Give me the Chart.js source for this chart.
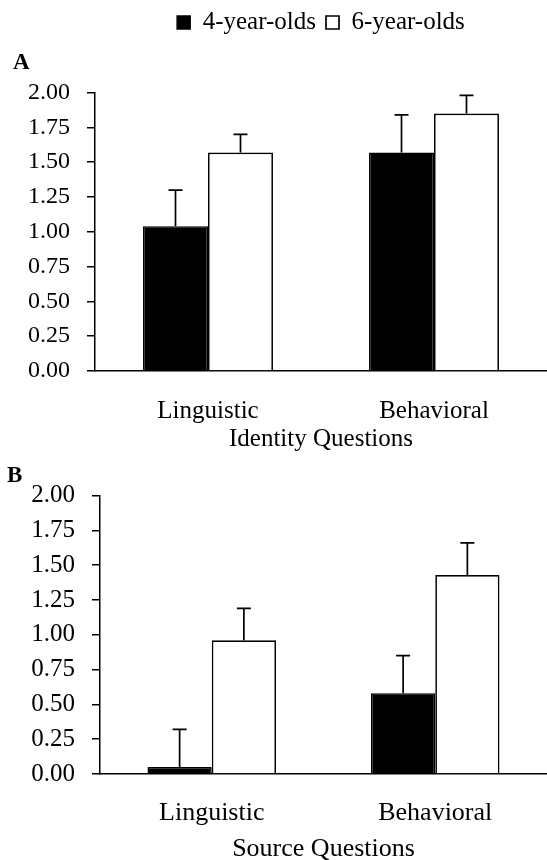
<!DOCTYPE html>
<html>
<head>
<meta charset="utf-8">
<script src="https://cdn.jsdelivr.net/npm/chart.js@4.4.0/dist/chart.umd.min.js"></script>
<style>
  html, body { margin: 0; padding: 0; background: #fff; overflow: hidden; }
  #wrap { width: 547px; height: 860px; position: relative; }
  canvas { display: block; }
</style>
</head>
<body>
<div id="wrap">
  <canvas id="chartA" width="547" height="460"></canvas>
  <canvas id="chartB" width="547" height="400"></canvas>
</div>
<script>
// ---- data ----
const categories = ['Linguistic', 'Behavioral'];
const seriesNames = ['4-year-olds', '6-year-olds'];
const yTickLabels = ['0.00', '0.25', '0.50', '0.75', '1.00', '1.25', '1.50', '1.75', '2.00'];

const identity4 = [1.04, 1.57];
const identity6 = [1.57, 1.85];
const identity4Err = [0.26, 0.27];
const identity6Err = [0.13, 0.13];

const source4 = [0.05, 0.58];
const source6 = [0.96, 1.43];
const source4Err = [0.27, 0.27];
const source6Err = [0.23, 0.23];

const panelTitles = ['A', 'B'];
const axisTitles = ['Identity Questions', 'Source Questions'];

// ---- helpers ----
const FONT = "'Liberation Serif', 'Times New Roman', Times, serif";

const errorBarPlugin = {
  id: 'errorBars',
  afterDatasetsDraw(chart) {
    const ctx = chart.ctx;
    const yScale = chart.scales.y;
    chart.data.datasets.forEach((ds, i) => {
      const meta = chart.getDatasetMeta(i);
      if (!ds.errorBars) return;
      meta.data.forEach((bar, j) => {
        const v = ds.data[j];
        const e = ds.errorBars[j];
        const yTop = yScale.getPixelForValue(v + e);
        const yBase = yScale.getPixelForValue(v);
        ctx.save();
        ctx.strokeStyle = '#000';
        ctx.lineWidth = 1.7;
        ctx.beginPath();
        ctx.moveTo(bar.x, yBase);
        ctx.lineTo(bar.x, yTop);
        ctx.moveTo(bar.x - 7, yTop);
        ctx.lineTo(bar.x + 7, yTop);
        ctx.stroke();
        ctx.restore();
      });
    });
  }
};

function makeChart(id, d4, d6, e4, e6, cfg) {
  return new Chart(document.getElementById(id), {
    type: 'bar',
    data: {
      labels: categories,
      datasets: [
        {
          label: seriesNames[0],
          data: d4,
          errorBars: e4,
          backgroundColor: '#000',
          borderColor: '#000',
          borderWidth: 1.5,
          categoryPercentage: 0.575,
          barPercentage: 1.0
        },
        {
          label: seriesNames[1],
          data: d6,
          errorBars: e6,
          backgroundColor: '#fff',
          borderColor: '#000',
          borderWidth: 1.7,
          categoryPercentage: 0.575,
          barPercentage: 1.0
        }
      ]
    },
    options: {
      responsive: false,
      animation: false,
      devicePixelRatio: 1,
      events: [],
      layout: { padding: { left: cfg.padLeft, right: 0, top: 0, bottom: 0 } },
      plugins: {
        tooltip: { enabled: false },
        legend: {
          display: cfg.legend,
          position: 'top',
          fullSize: false,
          weight: 1000,
          labels: {
            color: '#000',
            font: { family: FONT, size: 25 },
            boxWidth: 13,
            boxHeight: 13,
            padding: 10
          }
        },
        title: {
          display: true,
          text: cfg.panel,
          align: 'start',
          position: 'top',
          fullSize: true,
          weight: 500,
          color: '#000',
          font: { family: FONT, size: 23, weight: 'bold', lineHeight: 1.2 },
          padding: { top: cfg.titlePadTop, bottom: cfg.titlePadBottom }
        }
      },
      scales: {
        x: {
          grid: { display: false, drawTicks: false },
          border: { display: true, color: '#000', width: 1.5 },
          ticks: {
            color: '#000',
            padding: cfg.xTickPad,
            maxRotation: 0,
            font: { family: FONT, size: cfg.catFont, lineHeight: 1 }
          },
          title: {
            display: true,
            text: cfg.axisTitle,
            color: '#000',
            font: { family: FONT, size: cfg.catFont, lineHeight: 1 },
            padding: { top: cfg.axisTitlePadTop, bottom: cfg.axisTitlePadBottom }
          }
        },
        y: {
          min: 0,
          max: 2,
          afterFit: (scale) => { scale.width = cfg.yAxisWidth; },
          grid: {
            display: true,
            drawOnChartArea: false,
            drawTicks: true,
            tickLength: 8,
            color: '#000',
            lineWidth: 1.5
          },
          border: { display: true, color: '#000', width: 1.5 },
          ticks: {
            stepSize: 0.25,
            autoSkip: false,
            padding: 17,
            color: '#000',
            font: { family: FONT, size: cfg.tickFont },
            callback: (value, index) => yTickLabels[index]
          }
        }
      }
    },
    plugins: [errorBarPlugin]
  });
}

makeChart('chartA', identity4, identity6, identity4Err, identity6Err, {
  panel: panelTitles[0],
  axisTitle: axisTitles[0],
  legend: true,
  padLeft: 13,
  yAxisWidth: 82,
  titlePadTop: 4,
  titlePadBottom: 16,
  tickFont: 24,
  catFont: 25,
  xTickPad: 28,
  axisTitlePadTop: -25,
  axisTitlePadBottom: 8
});

makeChart('chartB', source4, source6, source4Err, source6Err, {
  panel: panelTitles[1],
  axisTitle: axisTitles[1],
  legend: false,
  padLeft: 7,
  yAxisWidth: 93,
  titlePadTop: 2,
  titlePadBottom: 6,
  tickFont: 25,
  catFont: 26,
  xTickPad: 26,
  axisTitlePadTop: -16,
  axisTitlePadBottom: -2
});
</script>
</body>
</html>
